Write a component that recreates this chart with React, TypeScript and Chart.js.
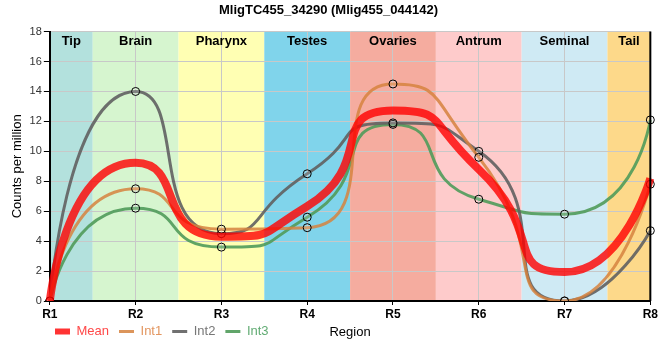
import React, { useEffect, useRef } from "react";
import { Chart, registerables } from "chart.js";

Chart.register(...registerables);

const categories = ["R1", "R2", "R3", "R4", "R5", "R6", "R7", "R8"];
const meanValues = [0, 9.23, 4.3, 6.33, 12.73, 8.8, 1.93, 8.2];
const int1Values = [0, 7.5, 4.8, 4.9, 14.5, 9.6, 0, 7.8];
const int2Values = [0, 14.0, 4.5, 8.5, 11.9, 10.0, 0, 4.7];
const int3Values = [0, 6.2, 3.6, 5.6, 11.8, 6.8, 5.8, 12.1];
const regionNames = ["Tip", "Brain", "Pharynx", "Testes", "Ovaries", "Antrum", "Seminal", "Tail"];
const regionColors = ["#b3e1dd", "#d6f5cf", "#ffffb3", "#80d4eb", "#f5ac9f", "#fecbcb", "#cfeaf4", "#fdd98a"];
const yTicks = [0, 2, 4, 6, 8, 10, 12, 14, 16, 18];

const FONT = "'Liberation Sans', Arial, sans-serif";
const SMOOTH = 0.7;

const clamp = (v: number, a: number, b: number) => Math.max(Math.min(a, b), Math.min(Math.max(a, b), v));

function smoothControlPoints(pts: any[], s: number) {
  const n = pts.length;
  for (let i = 0; i < n; i++) {
    const p = pts[i];
    if (i === 0 || i === n - 1) {
      p.cp1x = p.x; p.cp1y = p.y; p.cp2x = p.x; p.cp2y = p.y;
      continue;
    }
    const prev = pts[i - 1];
    const next = pts[i + 1];
    const vx = next.x - prev.x;
    const vy = next.y - prev.y;
    const lenPrev = Math.hypot(p.x - prev.x, p.y - prev.y);
    const lenNext = Math.hypot(next.x - p.x, next.y - p.y);
    const ratio = lenNext / (lenNext + lenPrev);
    let ncx = clamp(p.x + vx * s * ratio, p.x, next.x);
    let ncy = clamp(p.y + vy * s * ratio, p.y, next.y);
    const cx = clamp(p.x - (ncx - p.x) * lenPrev / lenNext, prev.x, p.x);
    const cy = clamp(p.y - (ncy - p.y) * lenPrev / lenNext, prev.y, p.y);
    ncx = p.x + (p.x - cx) * lenNext / lenPrev;
    ncy = p.y + (p.y - cy) * lenNext / lenPrev;
    p.cp1x = cx; p.cp1y = cy; p.cp2x = ncx; p.cp2y = ncy;
  }
}

const smoothPlugin = {
  id: "smoothCurves",
  beforeDatasetDraw(chart: any, args: any) {
    const meta = args.meta;
    const line = meta.dataset;
    if (!line) return;
    line.updateControlPoints(chart.chartArea, "x");
    smoothControlPoints(meta.data, SMOOTH);
    line._path = undefined;
  },
};

const bandsPlugin = {
  id: "bands",
  afterLayout(chart: any) {
    if (chart.legend) {
      chart.legend.left = 45;
      chart.legend.top -= 27;
    }
  },
  beforeDraw(chart: any) {
    const { ctx, chartArea, scales } = chart;
    const x = scales.x;
    ctx.save();
    regionNames.forEach((name, i) => {
      const l = Math.max(chartArea.left, x.getPixelForValue(i - 0.5));
      const r = Math.min(chartArea.right, x.getPixelForValue(i + 0.5));
      ctx.fillStyle = regionColors[i];
      ctx.fillRect(l, chartArea.top, r - l, chartArea.bottom - chartArea.top);
    });
    ctx.restore();
  },
  afterDatasetsDraw(chart: any) {
    const { ctx, chartArea, scales } = chart;
    const x = scales.x;
    ctx.save();
    ctx.font = "bold 13px " + FONT;
    ctx.fillStyle = "#000";
    ctx.textAlign = "center";
    ctx.textBaseline = "middle";
    regionNames.forEach((name, i) => {
      const l = Math.max(chartArea.left, x.getPixelForValue(i - 0.5));
      const r = Math.min(chartArea.right, x.getPixelForValue(i + 0.5));
      ctx.fillText(name, (l + r) / 2, chartArea.top + 10);
    });
    ctx.strokeStyle = "#000";
    ctx.lineWidth = 2;
    ctx.beginPath();
    ctx.moveTo(chartArea.right, chartArea.top);
    ctx.lineTo(chartArea.right, chartArea.bottom);
    ctx.stroke();
    ctx.restore();
  },
};

export default function App() {
  const ref = useRef<HTMLCanvasElement>(null);
  useEffect(() => {
    if (!ref.current) return;
    const mk = (label: string, data: number[], color: string, width: number, points: boolean, legendText: string, legendWidth: number) => ({
      label,
      data,
      borderColor: color,
      backgroundColor: color,
      borderWidth: width,
      cubicInterpolationMode: "monotone" as const,
      pointRadius: points ? 4 : 0,
      pointBorderColor: "#000",
      pointBorderWidth: 1,
      pointBackgroundColor: "rgba(255,255,255,0.15)",
      fill: false,
      legendText,
      legendWidth,
    });
    const chart = new Chart(ref.current, {
      type: "line",
      data: {
        labels: categories,
        datasets: [
          mk("Mean", meanValues, "rgba(255,0,0,0.8)", 8, false, "#ff4848", 6),
          mk("Int1", int1Values, "rgba(214,130,62,0.85)", 3, true, "#e39660", 3),
          mk("Int2", int2Values, "rgba(96,96,96,0.9)", 3, true, "#777777", 3),
          mk("Int3", int3Values, "rgba(80,155,90,0.9)", 3, true, "#62ac74", 3),
        ] as any,
      },
      options: {
        animation: false,
        responsive: false,
        maintainAspectRatio: false,
        layout: { padding: { left: 6, right: 9, top: 0, bottom: -15 } },
        plugins: {
          title: {
            display: true,
            text: "MligTC455_34290 (Mlig455_044142)",
            font: { family: FONT, size: 13, weight: "bold" },
            color: "#000",
            padding: { top: 3, bottom: 13 },
          },
          legend: {
            position: "bottom",
            align: "start",
            labels: {
              usePointStyle: true,
              pointStyleWidth: 15,
              font: { family: FONT, size: 13 },
              padding: 10,
              generateLabels(chart: any) {
                return chart.data.datasets.map((ds: any, i: number) => ({
                  text: ds.label,
                  fillStyle: ds.borderColor,
                  strokeStyle: ds.borderColor,
                  lineWidth: ds.legendWidth,
                  pointStyle: "line",
                  fontColor: ds.legendText,
                  datasetIndex: i,
                  hidden: false,
                }));
              },
            },
          },
          tooltip: { enabled: false },
        },
        scales: {
          x: {
            offset: false,
            grid: { color: "#c8c8c8", tickColor: "#000", tickLength: 4, lineWidth: 1 },
            border: { color: "#000", width: 2 },
            ticks: { color: "#000", font: { family: FONT, size: 12, weight: "bold" }, padding: 2 },
            title: {
              display: true,
              text: "Region",
              color: "#000",
              font: { family: FONT, size: 13 },
              padding: { top: 1, bottom: 2 },
            },
          },
          y: {
            min: 0,
            max: 18,
            afterBuildTicks(scale: any) {
              scale.ticks = yTicks.map((v) => ({ value: v }));
            },
            grid: { color: "#c8c8c8", tickColor: "#000", tickLength: 6, lineWidth: 1 },
            border: { color: "#000", width: 2 },
            ticks: { color: "#333", font: { family: FONT, size: 11 }, padding: 2 },
            title: {
              display: true,
              text: "Counts per million",
              color: "#000",
              font: { family: FONT, size: 13 },
              padding: { top: 4, bottom: 2 },
            },
          },
        },
      },
      plugins: [bandsPlugin, smoothPlugin],
    });
    return () => chart.destroy();
  }, []);
  return (
    <div style={{ position: "fixed", left: 0, top: 0, width: 660, height: 360, background: "#fff" }}>
      <canvas ref={ref} width={660} height={360} style={{ width: 660, height: 360 }} />
    </div>
  );
}
